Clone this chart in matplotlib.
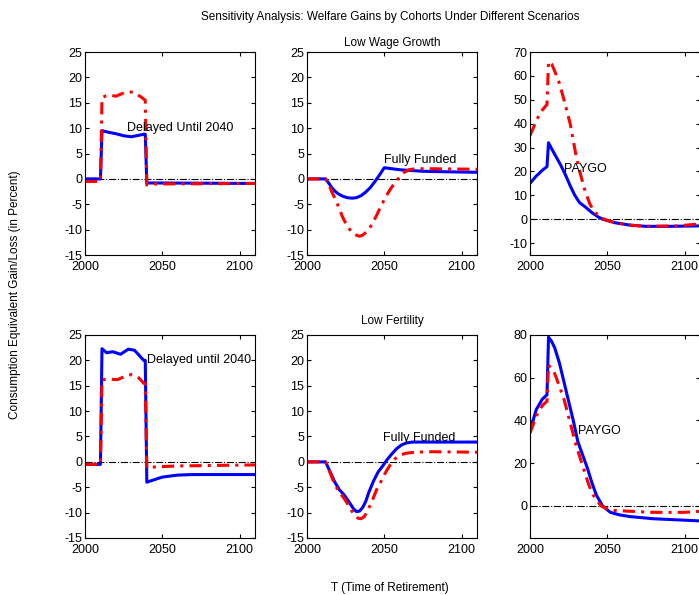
import numpy as np
import matplotlib
matplotlib.use('Agg')
import matplotlib.pyplot as plt

plt.rcParams['font.family'] = ['Liberation Sans', 'DejaVu Sans']
plt.rcParams['axes.unicode_minus'] = False

# ===================== DATA =====================
# Low wage growth - delayed until 2040
lw_del_x_b = [2000, 2010, 2011, 2015, 2020, 2025, 2030, 2035, 2038, 2039, 2040, 2110]
lw_del_y_b = [0, 0, 9.5, 9.2, 8.9, 8.5, 8.3, 8.6, 8.8, 8.8, -0.8, -0.9]
lw_del_x_r = [2000, 2010, 2011, 2013, 2016, 2020, 2024, 2028, 2032, 2036, 2039, 2040, 2045, 2110]
lw_del_y_r = [-0.5, -0.5, 16.0, 16.3, 16.5, 16.3, 16.8, 17.2, 17.0, 16.2, 15.5, -1.2, -1.0, -0.9]

# Low wage growth - fully funded
lw_ff_x_b = [2000, 2012, 2014, 2016, 2018, 2020, 2023, 2026, 2029, 2032, 2035, 2038, 2041, 2044, 2047, 2050,
             2060, 2075, 2090, 2110]
lw_ff_y_b = [0, 0, -0.8, -1.7, -2.4, -2.9, -3.4, -3.7, -3.8, -3.7, -3.3, -2.6, -1.7, -0.5, 0.8, 2.2,
             1.8, 1.5, 1.4, 1.3]
lw_ff_x_r = [2000, 2012, 2014, 2016, 2018, 2020, 2023, 2026, 2029, 2032, 2034, 2036, 2039, 2042, 2045, 2048,
             2051, 2054, 2057, 2060, 2063, 2066, 2070, 2080, 2110]
lw_ff_y_r = [0, 0, -1.0, -2.5, -3.8, -5.2, -7.5, -9.3, -10.5, -11.1, -11.3, -11.1, -10.3, -9.0, -7.2, -5.3,
             -3.5, -2.0, -0.7, 0.4, 1.3, 1.8, 2.0, 2.0, 1.9]

# Low wage growth - PAYGO
lw_pg_x_b = [2000, 2004, 2008, 2011, 2012, 2014, 2017, 2020, 2023, 2026, 2029, 2032, 2036, 2040, 2044, 2047,
             2055, 2065, 2075, 2090, 2110]
lw_pg_y_b = [15, 18, 20.5, 22, 32, 29.5, 26, 22.5, 18.5, 14, 10, 7, 5, 2.8, 1, 0,
             -1.5, -2.5, -3.0, -3.0, -2.8]
lw_pg_x_r = [2000, 2004, 2007, 2011, 2012, 2014, 2016, 2019, 2022, 2026, 2030, 2033, 2036, 2039, 2042, 2045,
             2048, 2055, 2065, 2075, 2095, 2110]
lw_pg_y_r = [35, 41, 45, 48, 66, 65, 62, 57, 50, 40, 26, 18, 11, 6, 3, 1,
             0, -1.5, -2.5, -3.0, -2.8, -2.0]

# Low fertility - delayed until 2040
lf_del_x_b = [2000, 2010, 2011, 2014, 2018, 2023, 2028, 2032, 2035, 2038, 2039, 2040, 2045, 2050, 2060, 2070, 2110]
lf_del_y_b = [-0.5, -0.5, 22.3, 21.5, 21.7, 21.2, 22.2, 22.0, 21.0, 20.0, 20.0, -4.0, -3.5, -3.0, -2.6, -2.5, -2.5]
lf_del_x_r = [2000, 2010, 2011, 2016, 2021, 2027, 2030, 2035, 2038, 2039, 2040, 2045, 2060, 2110]
lf_del_y_r = [-0.5, -0.5, 16.2, 16.3, 16.2, 17.0, 17.2, 16.5, 15.5, 15.5, -1.2, -1.0, -0.8, -0.6]

# Low fertility - fully funded
lf_ff_x_b = [2000, 2012, 2015, 2018, 2021, 2024, 2027, 2030, 2032, 2034, 2036, 2038, 2040, 2043, 2046, 2049,
             2052, 2055, 2058, 2061, 2064, 2068, 2110]
lf_ff_y_b = [0, 0, -2.0, -4.0, -5.5, -6.5, -7.8, -9.2, -9.8, -9.7, -9.0, -7.8, -6.0, -3.8, -2.0, -0.8,
             0.5, 1.6, 2.6, 3.3, 3.7, 3.9, 3.9]
lf_ff_x_r = [2000, 2012, 2015, 2018, 2021, 2024, 2027, 2030, 2033, 2035, 2037, 2039, 2042, 2045, 2048, 2051,
             2054, 2057, 2060, 2064, 2070, 2080, 2110]
lf_ff_y_r = [0, 0, -2.2, -4.5, -6.0, -7.2, -8.6, -10.2, -11.1, -11.2, -10.8, -9.8, -7.8, -5.5, -3.8, -2.0,
             -0.5, 0.6, 1.3, 1.7, 1.9, 2.0, 1.9]

# Low fertility - PAYGO
lf_pg_x_b = [2000, 2004, 2008, 2011, 2012, 2014, 2016, 2019, 2022, 2025, 2028, 2031, 2034, 2037, 2040, 2043,
             2047, 2052, 2058, 2065, 2080, 2095, 2110]
lf_pg_y_b = [35, 45, 50, 52, 79, 77, 74, 67, 58, 49, 40, 30, 24, 18, 11, 5,
             0, -3, -4.2, -5, -6, -6.5, -7.0]
lf_pg_x_r = [2000, 2004, 2008, 2011, 2012, 2014, 2016, 2018, 2022, 2026, 2030, 2034, 2038, 2041, 2046, 2052,
             2065, 2080, 2100, 2110]
lf_pg_y_r = [34, 42, 47, 49, 66, 64, 62, 58, 50, 39, 28, 19, 10, 5, 0, -2,
             -2.5, -3.0, -3.0, -2.5]

panels = [
    (lw_del_x_b, lw_del_y_b, lw_del_x_r, lw_del_y_r, (-15, 25), [-15, -10, -5, 0, 5, 10, 15, 20, 25], 'Delayed Until 2040', (2027, 10)),
    (lw_ff_x_b, lw_ff_y_b, lw_ff_x_r, lw_ff_y_r, (-15, 25), [-15, -10, -5, 0, 5, 10, 15, 20, 25], 'Fully Funded', (2050, 3.8)),
    (lw_pg_x_b, lw_pg_y_b, lw_pg_x_r, lw_pg_y_r, (-15, 70), [-10, 0, 10, 20, 30, 40, 50, 60, 70], 'PAYGO', (2022, 21)),
    (lf_del_x_b, lf_del_y_b, lf_del_x_r, lf_del_y_r, (-15, 25), [-15, -10, -5, 0, 5, 10, 15, 20, 25], 'Delayed until 2040', (2040, 20)),
    (lf_ff_x_b, lf_ff_y_b, lf_ff_x_r, lf_ff_y_r, (-15, 25), [-15, -10, -5, 0, 5, 10, 15, 20, 25], 'Fully Funded', (2049, 4.7)),
    (lf_pg_x_b, lf_pg_y_b, lf_pg_x_r, lf_pg_y_r, (-15, 80), [0, 20, 40, 60, 80], 'PAYGO', (2031, 35)),
]

# ===================== PLOT =====================
fig = plt.figure(figsize=(6.99, 5.95), dpi=100)

lefts = [0.1216, 0.4392, 0.7582]
bottoms = [0.5714, 0.0958]
w, h = 0.2432, 0.3412

for i, (xb, yb, xr, yr, ylim, yticks, label, lpos) in enumerate(panels):
    ax = fig.add_axes([lefts[i % 3], bottoms[i // 3], w, h])
    ax.plot([2000, 2110], [0, 0], color='black', linestyle='-.', linewidth=0.8)
    ax.plot(xb, yb, color='blue', linewidth=2.2)
    ax.plot(xr, yr, color='red', linestyle=(0, (4, 2, 1, 2)), linewidth=2.2)
    ax.text(lpos[0], lpos[1], label, fontsize=9, va='center', ha='left')
    ax.set_xlim(2000, 2110)
    ax.set_ylim(*ylim)
    ax.set_xticks([2000, 2050, 2100])
    ax.set_yticks(yticks)
    ax.tick_params(direction='in', top=True, right=True, labelsize=9, length=3, pad=2)
    ax.tick_params(axis='x', pad=4)
    if i == 1:
        ax.set_title('Low Wage Growth', fontsize=8.5, pad=4)
    if i == 4:
        ax.set_title('Low Fertility', fontsize=8.5, pad=8)

fig.text(0.558, 0.971, 'Sensitivity Analysis: Welfare Gains by Cohorts Under Different Scenarios',
         ha='center', va='center', fontsize=8.5)
fig.text(0.022, 0.505, 'Consumption Equivalent Gain/Loss (in Percent)', rotation=90,
         ha='center', va='center', fontsize=8.5)
fig.text(0.558, 0.012, 'T (Time of Retirement)', ha='center', va='center', fontsize=8.5)

fig.savefig('out.png', dpi=100)
